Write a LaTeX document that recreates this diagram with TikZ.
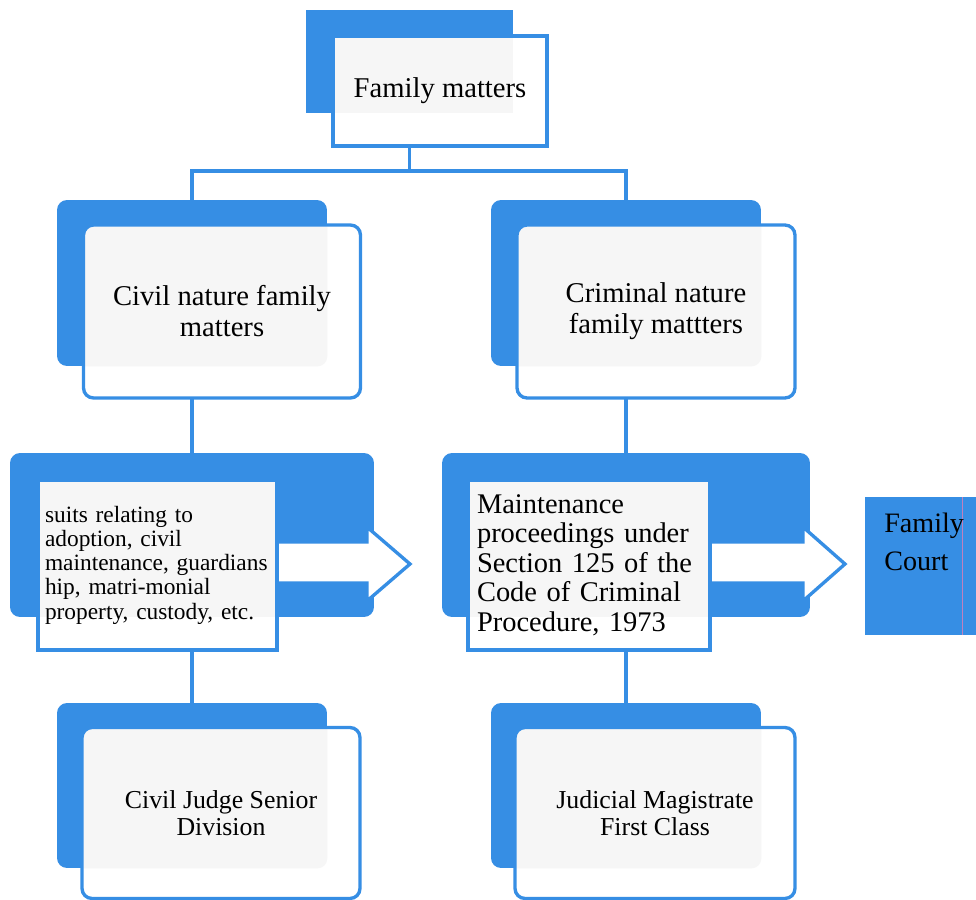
\documentclass[tikz,border=0pt]{standalone}
\usepackage{fontspec}
\setmainfont{Liberation Serif}
\usetikzlibrary{backgrounds}
\definecolor{chartblue}{RGB}{54,142,228}

\begin{document}
\begin{tikzpicture}[x=0.02cm, y=-0.02cm,
    back/.style={fill=chartblue, inner sep=0pt, rounded corners=0.2cm},
    front/.style={draw=chartblue, line width=1.9pt, fill=white, inner sep=0pt,
                  rounded corners=0.2cm, align=center, font=\fontsize{16.3}{17.6}\selectfont,
                  path picture={\fill[gray!7] (#1.north west) rectangle (#1.south east);}},
    link/.style={draw=chartblue, line width=1.9pt},
    pointer/.style={draw=chartblue, line width=1.9pt, fill=white, line join=miter}]
    \useasboundingbox (0,0) rectangle (976,899);

    % top level
    \node[back, sharp corners, minimum width=4.14cm, minimum height=2.06cm] (fmback) at (409.5,61.5) {};
    \node[front=fmback, sharp corners, minimum width=4.28cm, minimum height=2.2cm] (fm) at (440,91) {Family matters};

    % civil / criminal
    \node[back, minimum width=5.4cm, minimum height=3.32cm] (civilback) at (192,283) {};
    \node[front=civilback, minimum width=5.54cm, minimum height=3.46cm] (civil) at (222,311.5) {Civil nature family\\matters};
    \node[back, minimum width=5.4cm, minimum height=3.32cm] (crimback) at (626,283) {};
    \node[front=crimback, minimum width=5.56cm, minimum height=3.46cm] (crim) at (656,311.5) {Criminal nature\\family mattters};

    % matters going to the family court
    \node[back, minimum width=7.28cm, minimum height=3.28cm] (suitsback) at (192,535) {};
    \filldraw[pointer] (270,542) -- (367,542) -- (367,527) -- (410,564) -- (367,601) -- (367,583) -- (270,583) -- cycle;
    \node[front=suitsback, sharp corners, minimum width=4.78cm, minimum height=3.4cm, text width=4.5cm, inner xsep=0.14cm,
          align=left, font=\fontsize{13.3}{13.8}\selectfont] (suits) at (157.5,565)
          {suits relating to\\adoption, civil\\maintenance, guardians\\hip, matri-monial\\property, custody, etc.};

    \node[back, minimum width=7.36cm, minimum height=3.28cm] (maintback) at (626,535) {};
    \filldraw[pointer] (700,542) -- (803,542) -- (803,527) -- (845,564) -- (803,601) -- (803,583) -- (700,583) -- cycle;
    \node[front=maintback, sharp corners, minimum width=4.84cm, minimum height=3.4cm, text width=4.48cm, inner xsep=0.18cm,
          align=left, font=\fontsize{16.2}{16.8}\selectfont] (maint) at (589,565)
          {Maintenance\\proceedings under\\Section 125 of the\\Code of Criminal\\Procedure, 1973};

    \node[fill=chartblue, inner sep=0pt, minimum width=2.22cm, minimum height=2.76cm] (court) at (920.5,566) {};
    \draw[violet!50, line width=0.4pt] (962,497) -- (962,635);
    \node[inner sep=0pt, anchor=north west, align=left, font=\fontsize{16}{21.6}\selectfont] (courtlabel) at (884,513) {Family\\Court};

    % courts of first instance
    \node[back, minimum width=5.4cm, minimum height=3.3cm] (cjback) at (192,785.5) {};
    \node[front=cjback, minimum width=5.56cm, minimum height=3.42cm, font=\fontsize{14.7}{15.3}\selectfont] (cj) at (221,813) {Civil Judge Senior\\Division};
    \node[back, minimum width=5.4cm, minimum height=3.3cm] (jmback) at (626,785.5) {};
    \node[front=jmback, minimum width=5.6cm, minimum height=3.42cm, font=\fontsize{14.7}{15.3}\selectfont] (jm) at (655,813) {Judicial Magistrate\\First Class};

    % connectors
    \begin{scope}[on background layer]
        \coordinate (split) at (409.5,171);
        \draw[link] (fmback) -- (split);
        \draw[link] (civilback) |- (split) -| (crimback);
        \draw[link] (civilback) -- (suitsback);
        \draw[link] (crimback) -- (maintback);
        \draw[link] (suitsback) -- (cjback);
        \draw[link] (maintback) -- (jmback);
    \end{scope}

\end{tikzpicture}
\end{document}
